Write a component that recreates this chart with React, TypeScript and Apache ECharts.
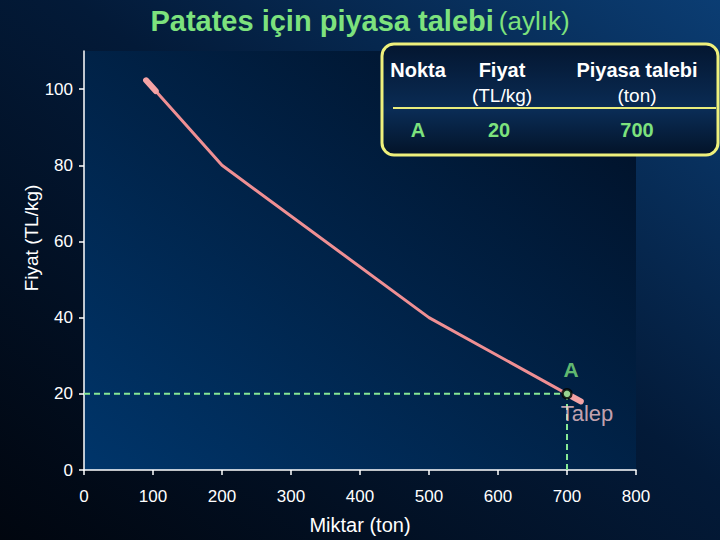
import React, { useRef, useEffect } from 'react';
import * as echarts from 'echarts';

// demand curve (miktar ton, fiyat TL/kg)
const curveQty = [90, 200, 500, 700, 720];
const curvePrice = [102.3, 80, 40, 20, 18];
const capTopQty = [90, 104];
const capTopPrice = [102.3, 99.5];
const capEndQty = [700, 720];
const capEndPrice = [20, 18];

const pointA = [700, 20];
const xTicks = [0, 100, 200, 300, 400, 500, 600, 700, 800];
const yTicks = [0, 20, 40, 60, 80, 100];

const tableHeaders = ['Nokta', 'Fiyat', 'Piyasa talebi'];
const tableUnits = ['', '(TL/kg)', '(ton)'];
const tableRow = ['A', '20', '700'];

const FONT = '"Liberation Sans", Arial, sans-serif';
const GREEN = '#7de27d';
const PINK = '#ef8f93';

const pairs = (xs: number[], ys: number[]) => xs.map((x, i) => [x, ys[i]]);

const App: React.FC = () => {
  const chartRef = useRef<HTMLDivElement>(null);

  useEffect(() => {
    if (!chartRef.current) return;
    const chart = echarts.init(chartRef.current, null, { renderer: 'svg' });

    const colX = [418, 502, 637];

    chart.setOption({
      animation: false,
      backgroundColor: new echarts.graphic.LinearGradient(0, 1, 1, 0, [
        { offset: 0, color: '#01060f' },
        { offset: 0.55, color: '#031a38' },
        { offset: 1, color: '#0b3d73' },
      ]),
      title: {
        left: 'center',
        top: 1,
        text: '{a|Patates için piyasa talebi} {b|(aylık)}',
        textStyle: {
          rich: {
            a: { fontFamily: FONT, fontSize: 29, fontWeight: 'bold', color: GREEN },
            b: { fontFamily: FONT, fontSize: 26, fontWeight: 'normal', color: GREEN },
          },
        },
      },
      grid: {
        left: 84,
        right: 84,
        top: 51,
        bottom: 70,
        show: true,
        borderWidth: 0,
        backgroundColor: new echarts.graphic.LinearGradient(1, 0, 0, 1, [
          { offset: 0, color: '#010f24' },
          { offset: 1, color: '#00356a' },
        ]),
      },
      xAxis: {
        type: 'value',
        min: 0,
        max: 800,
        interval: 100,
        splitLine: { show: false },
        axisLine: { lineStyle: { color: '#ffffff', width: 1.5 } },
        axisTick: { show: true, length: 5, customValues: xTicks, lineStyle: { color: '#ffffff', width: 1.5 } },
        axisLabel: { customValues: xTicks, color: '#ffffff', fontFamily: FONT, fontSize: 17, margin: 18 },
        name: 'Miktar (ton)',
        nameLocation: 'middle',
        nameGap: 45,
        nameTextStyle: { color: '#ffffff', fontFamily: FONT, fontSize: 20 },
      },
      yAxis: {
        type: 'value',
        min: 0,
        max: 110,
        interval: 20,
        splitLine: { show: false },
        axisLine: { show: true, lineStyle: { color: '#ffffff', width: 1.5 } },
        axisTick: { show: true, length: 5, customValues: yTicks, lineStyle: { color: '#ffffff', width: 1.5 } },
        axisLabel: { customValues: yTicks, color: '#ffffff', fontFamily: FONT, fontSize: 17, margin: 11 },
      },
      series: [
        {
          type: 'line',
          data: [[0, pointA[1]], pointA],
          symbol: 'none',
          lineStyle: { color: '#86e894', width: 2, type: [6, 4] },
          z: 2,
        },
        {
          type: 'line',
          data: [[pointA[0], 0], pointA],
          symbol: 'none',
          lineStyle: { color: '#86e894', width: 2, type: [6, 4] },
          z: 2,
        },
        {
          type: 'line',
          data: pairs(curveQty, curvePrice),
          symbol: 'none',
          lineStyle: { color: PINK, width: 3 },
          z: 3,
        },
        {
          type: 'line',
          data: pairs(capTopQty, capTopPrice),
          symbol: 'none',
          lineStyle: { color: '#f4a3a5', width: 6, cap: 'round' },
          z: 3,
        },
        {
          type: 'line',
          data: pairs(capEndQty, capEndPrice),
          symbol: 'none',
          lineStyle: { color: '#f4a3a5', width: 6, cap: 'round' },
          z: 3,
        },
        {
          type: 'scatter',
          data: [pointA],
          symbolSize: 9,
          itemStyle: { color: '#7fe08c', borderColor: '#000000', borderWidth: 2.5 },
          label: {
            show: true,
            formatter: 'A',
            position: 'top',
            offset: [4, -3],
            color: GREEN,
            fontFamily: FONT,
            fontSize: 21,
            fontWeight: 'bold',
          },
          z: 5,
        },
        {
          type: 'scatter',
          data: [pointA],
          symbolSize: 0,
          itemStyle: { color: 'transparent' },
          label: {
            show: true,
            formatter: 'Talep',
            position: 'bottom',
            offset: [20, 4],
            color: '#f6c6cc',
            fontFamily: FONT,
            fontSize: 22,
          },
          z: 5,
        },
      ],
      graphic: [
        {
          type: 'text',
          x: 31,
          y: 238,
          rotation: Math.PI / 2,
          style: {
            text: 'Fiyat (TL/kg)',
            fill: '#ffffff',
            font: `19px ${FONT}`,
            align: 'center',
            verticalAlign: 'middle',
          },
        },
        {
          type: 'group',
          children: [
            {
              type: 'rect',
              shape: { x: 382, y: 44, width: 336, height: 111, r: 12 },
              style: {
                fill: new echarts.graphic.LinearGradient(0, 0, 0, 1, [
                  { offset: 0, color: '#041630' },
                  { offset: 0.6, color: '#0a2c55' },
                  { offset: 1, color: '#031328' },
                ]),
                stroke: '#eef07c',
                lineWidth: 3,
              },
            },
            {
              type: 'line',
              shape: { x1: 393, y1: 108, x2: 716, y2: 108 },
              style: { stroke: '#e9ec7c', lineWidth: 2 },
            },
            ...tableHeaders.map((t, i) => ({
              type: 'text',
              x: colX[i],
              y: 70,
              style: {
                text: t,
                fill: '#ffffff',
                font: `bold 20px ${FONT}`,
                align: 'center',
                verticalAlign: 'middle',
              },
            })),
            ...tableUnits
              .map((t, i) => ({ t, i }))
              .filter((d) => d.t)
              .map((d) => ({
                type: 'text',
                x: colX[d.i],
                y: 95,
                style: {
                  text: d.t,
                  fill: '#ffffff',
                  font: `19px ${FONT}`,
                  align: 'center',
                  verticalAlign: 'middle',
                },
              })),
            ...tableRow.map((t, i) => ({
              type: 'text',
              x: i === 1 ? 499 : colX[i],
              y: 130,
              style: {
                text: t,
                fill: GREEN,
                font: `bold 20px ${FONT}`,
                align: 'center',
                verticalAlign: 'middle',
              },
            })),
          ],
        },
      ],
    });

    return () => {
      chart.dispose();
    };
  }, []);

  return (
    <div
      ref={chartRef}
      style={{ position: 'fixed', left: 0, top: 0, width: 720, height: 540 }}
    />
  );
};

export default App;
